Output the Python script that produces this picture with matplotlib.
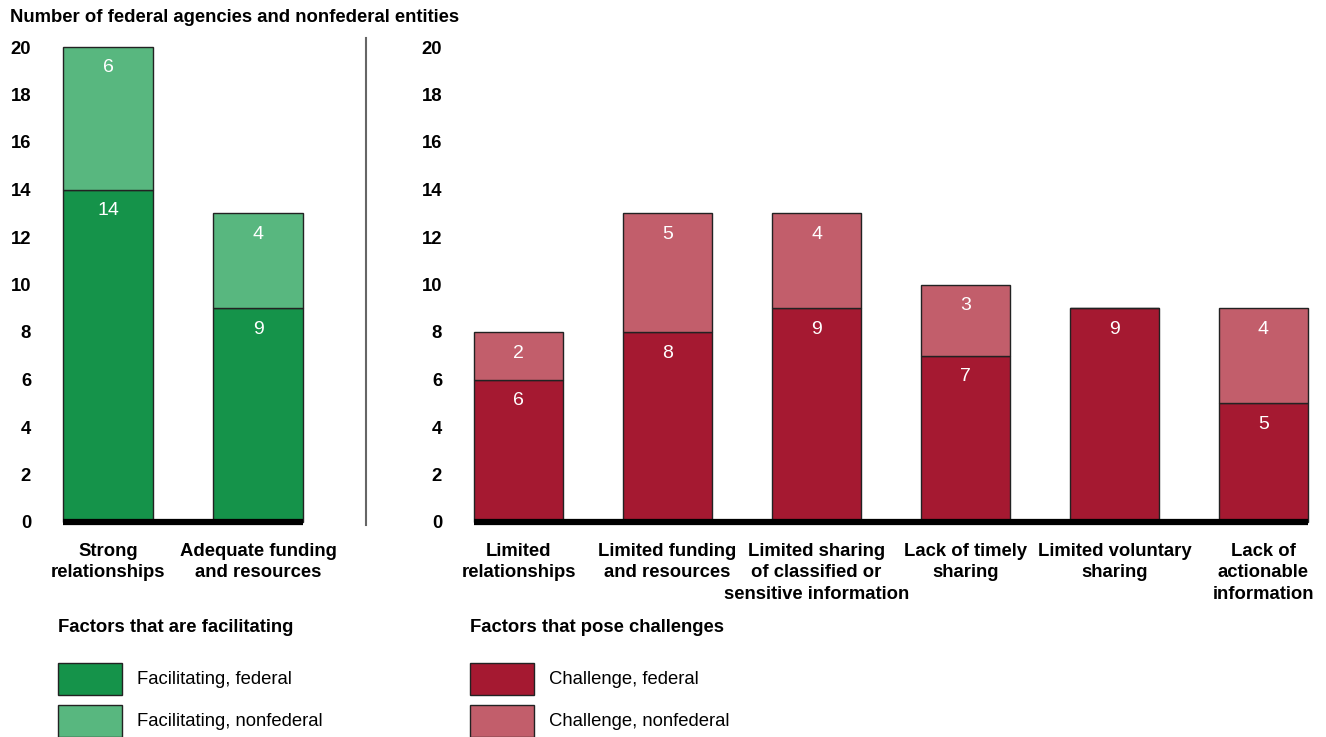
import matplotlib.pyplot as plt
from matplotlib.patches import Rectangle

plt.rcParams["font.family"] = ["Liberation Sans", "DejaVu Sans"]

# facilitating factors
fac_labels = ["Strong\nrelationships", "Adequate funding\nand resources"]
fac_federal = [14, 9]
fac_nonfederal = [6, 4]

# challenges
chal_labels = [
    "Limited\nrelationships",
    "Limited funding\nand resources",
    "Limited sharing\nof classified or\nsensitive information",
    "Lack of timely\nsharing",
    "Limited voluntary\nsharing",
    "Lack of\nactionable\ninformation",
]
chal_federal = [6, 8, 9, 7, 9, 5]
chal_nonfederal = [2, 5, 4, 3, 0, 4]

yticks = list(range(0, 21, 2))

GREEN = "#15934a"
LGREEN = "#58b77f"
RED = "#a51931"
LRED = "#c25e6b"
EDGE = "#222222"
FS = 13.3

W, H = 1326, 737
fig = plt.figure(figsize=(W / 100, H / 100), dpi=100)


def fx(px):
    return px / W


def fy(py):
    return 1 - py / H


def stacked(ax, labels, fed, nonfed, c1, c2):
    x = range(len(labels))
    b1 = ax.bar(x, fed, width=0.6, color=c1, edgecolor=EDGE, linewidth=1)
    b2 = ax.bar(x, nonfed, width=0.6, bottom=fed, color=c2, edgecolor=EDGE,
                linewidth=1)
    for p in list(b1) + list(b2):
        p.set_clip_on(False)
    for i in x:
        if fed[i]:
            ax.annotate(str(fed[i]), (i, fed[i]), xytext=(0, -9),
                        textcoords="offset points", ha="center", va="top",
                        color="white", fontsize=14)
        if nonfed[i]:
            top = fed[i] + nonfed[i]
            ax.annotate(str(nonfed[i]), (i, top), xytext=(0, -9),
                        textcoords="offset points", ha="center", va="top",
                        color="white", fontsize=14)
    ax.set_xlim(-0.3, len(labels) - 0.7)
    ax.set_ylim(0, 20)
    ax.set_yticks(yticks)
    ax.set_yticklabels([str(t) for t in yticks], fontsize=FS, fontweight="bold")
    ax.set_xticks(list(x))
    ax.set_xticklabels(labels, fontsize=FS, fontweight="bold", linespacing=1.35,
                       va="top")
    ax.tick_params(axis="both", length=0)
    ax.tick_params(axis="y", pad=23)
    ax.tick_params(axis="x", pad=15)
    for s in ax.spines.values():
        s.set_visible(False)
    ax.axhline(0, color="black", linewidth=4.5, clip_on=False, zorder=5,
               solid_capstyle="butt")


bottom = fy(522)
height = fy(47) - bottom
ax1 = fig.add_axes([fx(63), bottom, fx(240), height])
ax2 = fig.add_axes([fx(474), bottom, fx(834), height])
stacked(ax1, fac_labels, fac_federal, fac_nonfederal, GREEN, LGREEN)
stacked(ax2, chal_labels, chal_federal, chal_nonfederal, RED, LRED)

fig.text(fx(10), fy(17), "Number of federal agencies and nonfederal entities",
         fontsize=FS, fontweight="bold", va="center", ha="left")

# separator
fig.add_artist(plt.Line2D([fx(366), fx(366)], [fy(38), fy(525)],
                          color="#666666", linewidth=1.5))


# legends
def legend_block(x0, title, items):
    fig.text(fx(x0), fy(627), title, fontsize=FS, fontweight="bold",
             va="center", ha="left")
    for (label, color), top in zip(items, [663, 705]):
        fig.add_artist(Rectangle((fx(x0), fy(top + 32)), fx(64), fy(0) - fy(32),
                                 facecolor=color, edgecolor=EDGE,
                                 linewidth=1, transform=fig.transFigure))
        fig.text(fx(x0 + 79), fy(top + 16), label, fontsize=FS,
                 va="center", ha="left")


legend_block(58, "Factors that are facilitating",
             [("Facilitating, federal", GREEN), ("Facilitating, nonfederal", LGREEN)])
legend_block(470, "Factors that pose challenges",
             [("Challenge, federal", RED), ("Challenge, nonfederal", LRED)])

fig.savefig("out.png", dpi=100)
